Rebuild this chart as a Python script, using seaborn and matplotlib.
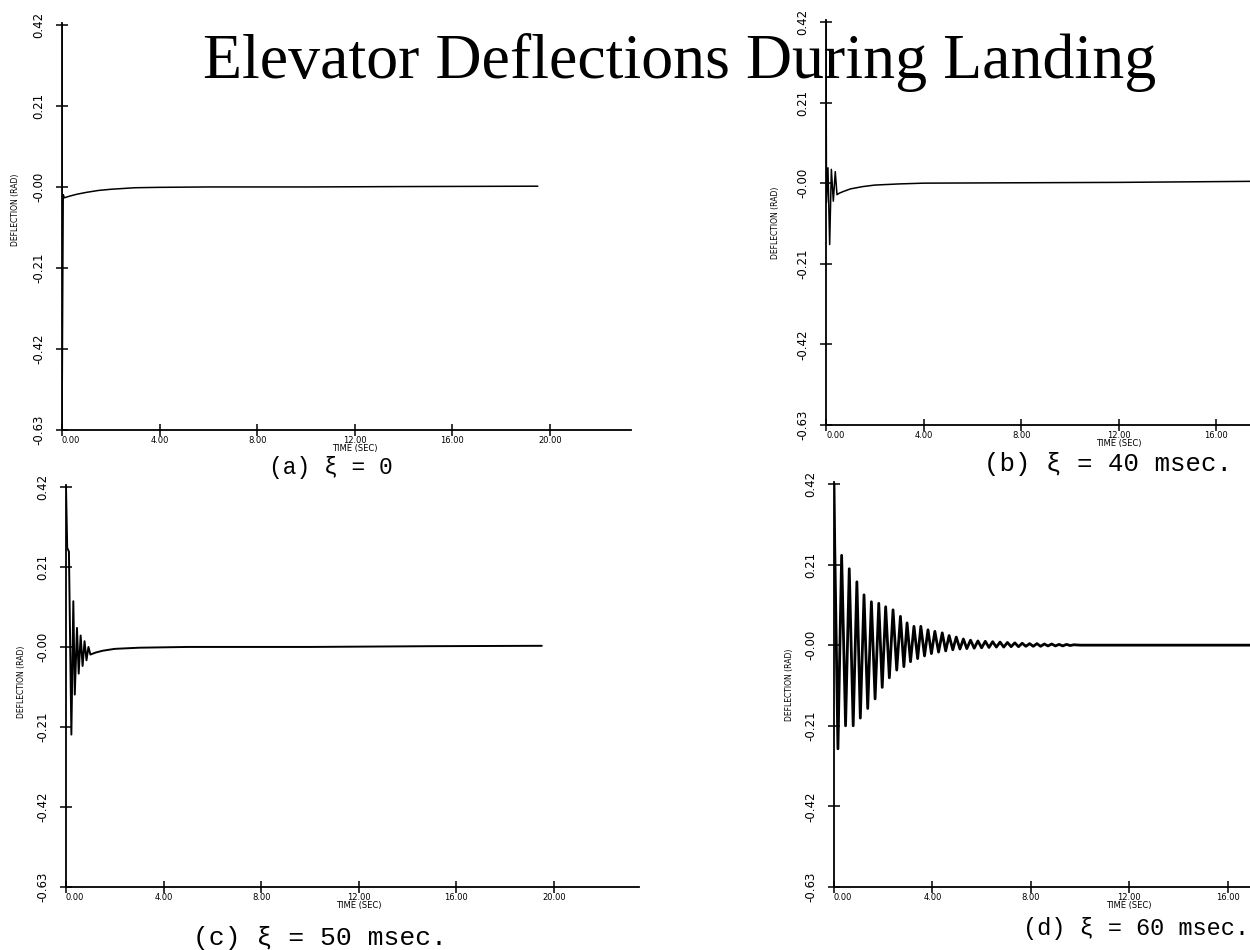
import matplotlib
matplotlib.use("Agg")
import matplotlib.pyplot as plt
import seaborn as sns
import pandas as pd

# ---------------- data ----------------
title_text = "Elevator Deflections During Landing"
y_ticks = [-0.63, -0.42, -0.21, 0.0, 0.21, 0.42]
y_tick_labels = ["-0.63", "-0.42", "-0.21", "-0.00", "0.21", "0.42"]
x_ticks_ac = [0, 4, 8, 12, 16, 20]
x_tick_labels_ac = ["0.00", "4.00", "8.00", "12.00", "16.00", "20.00"]
x_ticks_bd = [0, 4, 8, 12, 16]
x_tick_labels_bd = ["0.00", "4.00", "8.00", "12.00", "16.00"]
captions = ["(a) ξ = 0", "(b) ξ = 40 msec.", "(c) ξ = 50 msec.", "(d) ξ = 60 msec."]

# (a) xi = 0
a_t = [0.0, 0.0, 0.05, 0.1, 0.3, 0.6, 1.0, 1.5, 2.0, 2.5, 3.0, 4.0, 6.0, 10.0, 14.0, 19.5]
a_v = [0.42, -0.63, -0.02, -0.028, -0.024, -0.019, -0.014, -0.009, -0.006, -0.004, -0.002, -0.001, 0.0, 0.0, 0.001, 0.002]

# (b) xi = 40 msec
b_t = [0.0, 0.02, 0.08, 0.15, 0.22, 0.3, 0.38, 0.45, 0.55, 0.7, 1.0, 1.5, 2.0, 3.0, 4.0, 8.0, 12.0, 16.0, 18.0]
b_v = [0.42, -0.05, 0.04, -0.16, 0.036, -0.047, 0.03, -0.03, -0.026, -0.022, -0.015, -0.009, -0.005, -0.002, 0.0, 0.001, 0.002, 0.004, 0.005]

# (c) xi = 50 msec
c_t = [0.0, 0.05, 0.12, 0.22, 0.3, 0.36, 0.45, 0.52, 0.6, 0.68, 0.76, 0.84, 0.92, 1.0, 1.2, 1.5, 2.0, 3.0, 5.0, 10.0, 15.0, 19.5]
c_v = [0.42, 0.26, 0.25, -0.23, 0.12, -0.125, 0.05, -0.07, 0.03, -0.05, 0.015, -0.035, 0.0, -0.02, -0.015, -0.01, -0.005, -0.002, 0.0, 0.0, 0.002, 0.003]

# (d) xi = 60 msec : start, positive peaks, negative troughs, tail
d_start_t = [0.0, 0.03]
d_start_v = [0.42, 0.26]
d_peak_t = [0.31, 0.62, 0.93, 1.22, 1.52, 1.82, 2.1, 2.4, 2.7, 2.97, 3.25, 3.53, 3.82, 4.1, 4.4,
            4.68, 4.97, 5.26, 5.55, 5.85, 6.15, 6.45, 6.75, 7.05, 7.35, 7.65, 7.95, 8.25, 8.55,
            8.85, 9.15, 9.45, 9.75]
d_peak_v = [0.234, 0.199, 0.165, 0.131, 0.113, 0.109, 0.1, 0.092, 0.075, 0.058, 0.049, 0.049,
            0.04, 0.036, 0.032, 0.025, 0.021, 0.016, 0.013, 0.011, 0.01, 0.009, 0.008, 0.007,
            0.006, 0.005, 0.004, 0.004, 0.003, 0.003, 0.002, 0.002, 0.001]
d_trough_t = [0.16, 0.47, 0.78, 1.07, 1.37, 1.67, 1.96, 2.25, 2.55, 2.84, 3.11, 3.4, 3.68, 3.96,
              4.25, 4.54, 4.83, 5.12, 5.4, 5.7, 6.0, 6.3, 6.6, 6.9, 7.2, 7.5, 7.8, 8.1, 8.4,
              8.7, 9.0, 9.3, 9.6]
d_trough_v = [-0.27, -0.21, -0.21, -0.19, -0.165, -0.14, -0.11, -0.085, -0.065, -0.056, -0.043,
              -0.035, -0.028, -0.022, -0.018, -0.015, -0.012, -0.01, -0.009, -0.008, -0.007,
              -0.006, -0.005, -0.005, -0.004, -0.004, -0.003, -0.003, -0.003, -0.002, -0.002,
              -0.002, -0.001]
d_tail_t = [10.0, 14.0, 18.0]
d_tail_v = [0.0, 0.0, 0.0]

# ---------------- figure ----------------
sns.set_style("ticks")
plt.rcParams["font.family"] = ["DejaVu Sans"]
plt.rcParams["text.color"] = "black"
plt.rcParams["axes.labelcolor"] = "black"
plt.rcParams["xtick.color"] = "black"
plt.rcParams["ytick.color"] = "black"

W, H = 1250, 950
fig = plt.figure(figsize=(W / 100, H / 100), dpi=100)
fig.patch.set_facecolor("white")


def make_axes(x0, ytop, ybot, pxs, xmax):
    wpx = pxs * xmax
    return fig.add_axes([x0 / W, 1 - ybot / H, wpx / W, (ybot - ytop) / H])


def style(ax, xmax, xticks, xlabels, ylab_y, ylab_dx, xlab_pos):
    ax.set_xlim(0, xmax)
    ax.set_ylim(-0.63, 0.425)
    ax.set_facecolor("white")
    for s in ["top", "right"]:
        ax.spines[s].set_visible(False)
    for s in ["left", "bottom"]:
        ax.spines[s].set_color("black")
        ax.spines[s].set_linewidth(1.3)
    ax.set_yticks(y_ticks)
    ax.set_yticklabels(y_tick_labels, rotation=90, va="center", fontsize=8.5)
    ax.set_xticks(xticks)
    ax.set_xticklabels(xlabels, fontsize=6)
    ax.get_xticklabels()[0].set_ha("left")
    ax.tick_params(axis="both", direction="inout", length=8, width=1.1, color="black")
    ax.tick_params(axis="y", pad=8)
    ax.tick_params(axis="x", pad=0)
    ax.set_xlabel("TIME (SEC)", fontsize=6, labelpad=0)
    ax.xaxis.set_label_coords(xlab_pos, -0.035)
    ax.set_ylabel("DEFLECTION (RAD)", fontsize=5.5)
    ax.yaxis.set_label_coords(ylab_dx, ylab_y)
    ax.grid(False)


def draw(ax, t, v, lw=1.1):
    df = pd.DataFrame({"t": t, "v": v})
    sns.lineplot(data=df, x="t", y="v", ax=ax, color="black", linewidth=lw,
                 estimator=None, sort=False, legend=False)


# (a)
ax_a = make_axes(62, 23, 430, 24.4, 23.3)
draw(ax_a, a_t, a_v)
style(ax_a, 23.3, x_ticks_ac, x_tick_labels_ac, 0.54, -42 / 568, 12 / 23.3)

# (b)
ax_b = make_axes(826, 20, 425, 24.4, 18.0)
draw(ax_b, b_t, b_v)
style(ax_b, 18.0, x_ticks_bd, x_tick_labels_bd, 0.50, -46 / 439, 12 / 18.0)

# (c)
ax_c = make_axes(66, 485, 887, 24.4, 23.5)
draw(ax_c, c_t, c_v, lw=1.4)
style(ax_c, 23.5, x_ticks_ac, x_tick_labels_ac, 0.51, -40 / 573, 12 / 23.5)

# (d)
pairs = list(zip(d_peak_t, d_peak_v)) + list(zip(d_trough_t, d_trough_v)) + \
    list(zip(d_tail_t, d_tail_v))
pairs = sorted(pairs, key=lambda p: p[0])
d_t = d_start_t + [p[0] for p in pairs]
d_v = d_start_v + [p[1] for p in pairs]
ax_d = make_axes(834, 482, 887, 24.6, 17.5)
draw(ax_d, d_t, d_v, lw=2.0)
style(ax_d, 17.5, x_ticks_bd, x_tick_labels_bd, 0.50, -40 / 430, 12 / 17.5)

# captions
cap_font = ["Liberation Mono", "DejaVu Sans Mono"]
fig.text(331 / W, 1 - 467 / H, captions[0], ha="center", va="center", fontsize=16.5, family=cap_font)
fig.text(1108 / W, 1 - 464 / H, captions[1], ha="center", va="center", fontsize=18.5, family=cap_font)
fig.text(320 / W, 1 - 938 / H, captions[2], ha="center", va="center", fontsize=19, family=cap_font)
fig.text(1136 / W, 1 - 928 / H, captions[3], ha="center", va="center", fontsize=17, family=cap_font)

# title
fig.text(680 / W, 1 - 78 / H, title_text, ha="center", va="baseline", fontsize=46,
         color="black", family=["Liberation Serif", "DejaVu Serif"])

fig.savefig("out.png", dpi=100, facecolor="white")
